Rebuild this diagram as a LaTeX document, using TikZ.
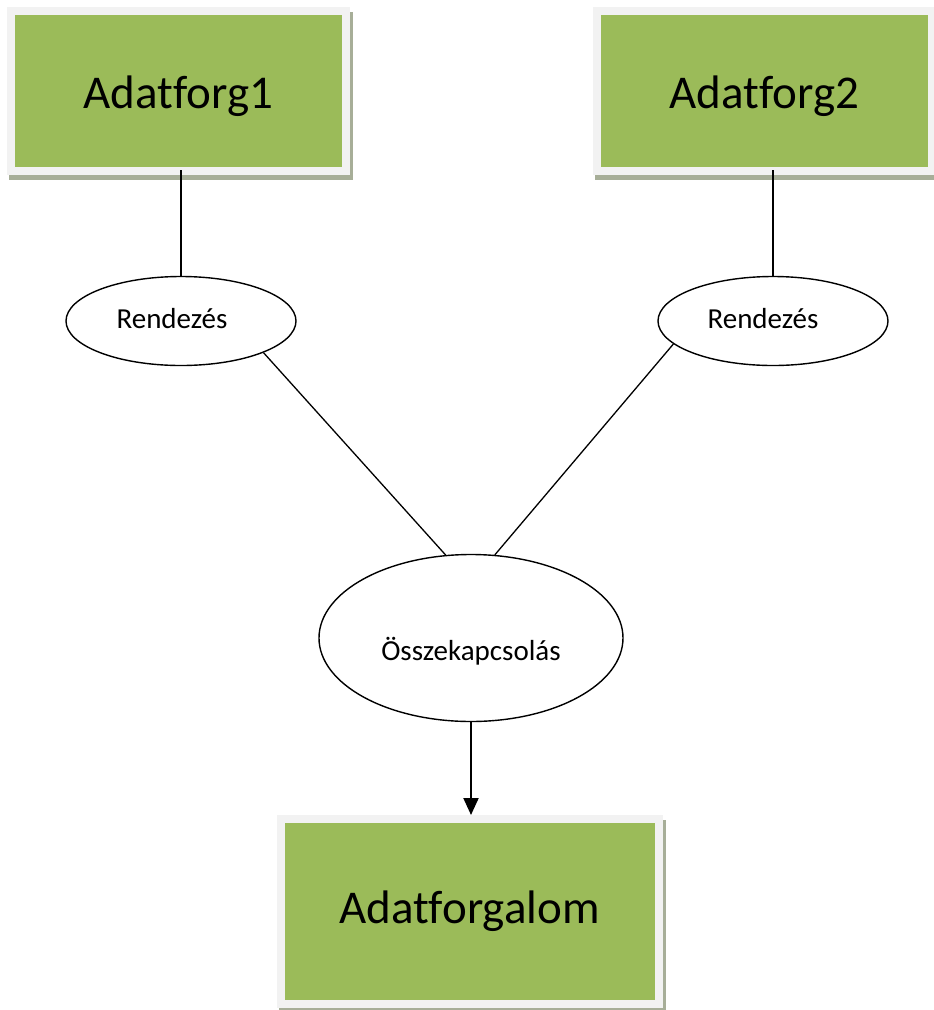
\documentclass[tikz,border=0pt]{standalone}
\usepackage{fontspec}
\setmainfont[Ligatures=CommonOff]{Carlito}
\usetikzlibrary{shapes.geometric,arrows.meta,backgrounds,calc}
\definecolor{boxgreen}{HTML}{9BBB59}
\definecolor{boxrim}{HTML}{F2F2F2}
\definecolor{boxshade}{HTML}{A7AE98}
\tikzset{
  databox/.style={rectangle, fill=boxgreen, draw=boxrim, line width=8pt,
    inner sep=0pt, font=\fontsize{47}{56}\selectfont,
    text height=34pt, text depth=10pt},
  opnode/.style={ellipse, draw=black, line width=1.4pt, fill=white,
    inner sep=0pt, font=\fontsize{29}{34}\selectfont},
  link/.style={draw=black, line width=1.3pt},
  flow/.style={draw=black, line width=2pt, -{Triangle[length=17pt,width=15pt]}},
}
% soft offset shadow behind a data box (anchors include the rim's outer sep)
\newcommand{\boxshadow}[1]{%
  \fill[boxshade] ($(#1.south west)+(2.5,5)$) rectangle ($(#1.north east)+(3,5)$);}
\begin{document}
\begin{tikzpicture}[x=1pt,y=-1pt]
  \clip (0,0) rectangle (934,1010);

  % data sources and result
  \node[databox, minimum width=335.5pt, minimum height=160pt, text height=44pt] (b1) at (178.25,91) {Adatforg1};
  \node[databox, minimum width=335.5pt, minimum height=160pt, text height=44pt] (b2) at (764.25,91) {Adatforg2};
  \node[databox, minimum width=378pt, minimum height=184.5pt] (b3) at (469.5,911.25) {Adatforgalom};

  \begin{scope}[on background layer]
    \fill[white] (0,0) rectangle (934,1010);
    \boxshadow{b1}
    \boxshadow{b2}
    \boxshadow{b3}
  \end{scope}

  % operations
  \node[opnode, minimum width=230pt, minimum height=89pt,
        text height=20pt, text depth=6pt] (e1) at (181,321) {Rendezés\hspace*{18pt}};
  \node[opnode, minimum width=230pt, minimum height=89pt,
        text height=20pt, text depth=6pt] (e2) at (773,321) {Rendezés\hspace*{20pt}};
  \node[opnode, minimum width=304pt, minimum height=167pt,
        text height=44pt, text depth=0pt] (e3) at (471,638) {Összekapcsolás};

  % connectors
  \draw[link] (e1.north) -- (e1.north |- 0,170);
  \draw[link] (e2.north) -- (e2.north |- 0,170);
  \draw[link] (e1.-21) -- (e3.107);
  \draw[link] (e2.193) -- (e3.74);
  \draw[flow] (e3.south) -- (e3.south |- b3.north);
\end{tikzpicture}
\end{document}
